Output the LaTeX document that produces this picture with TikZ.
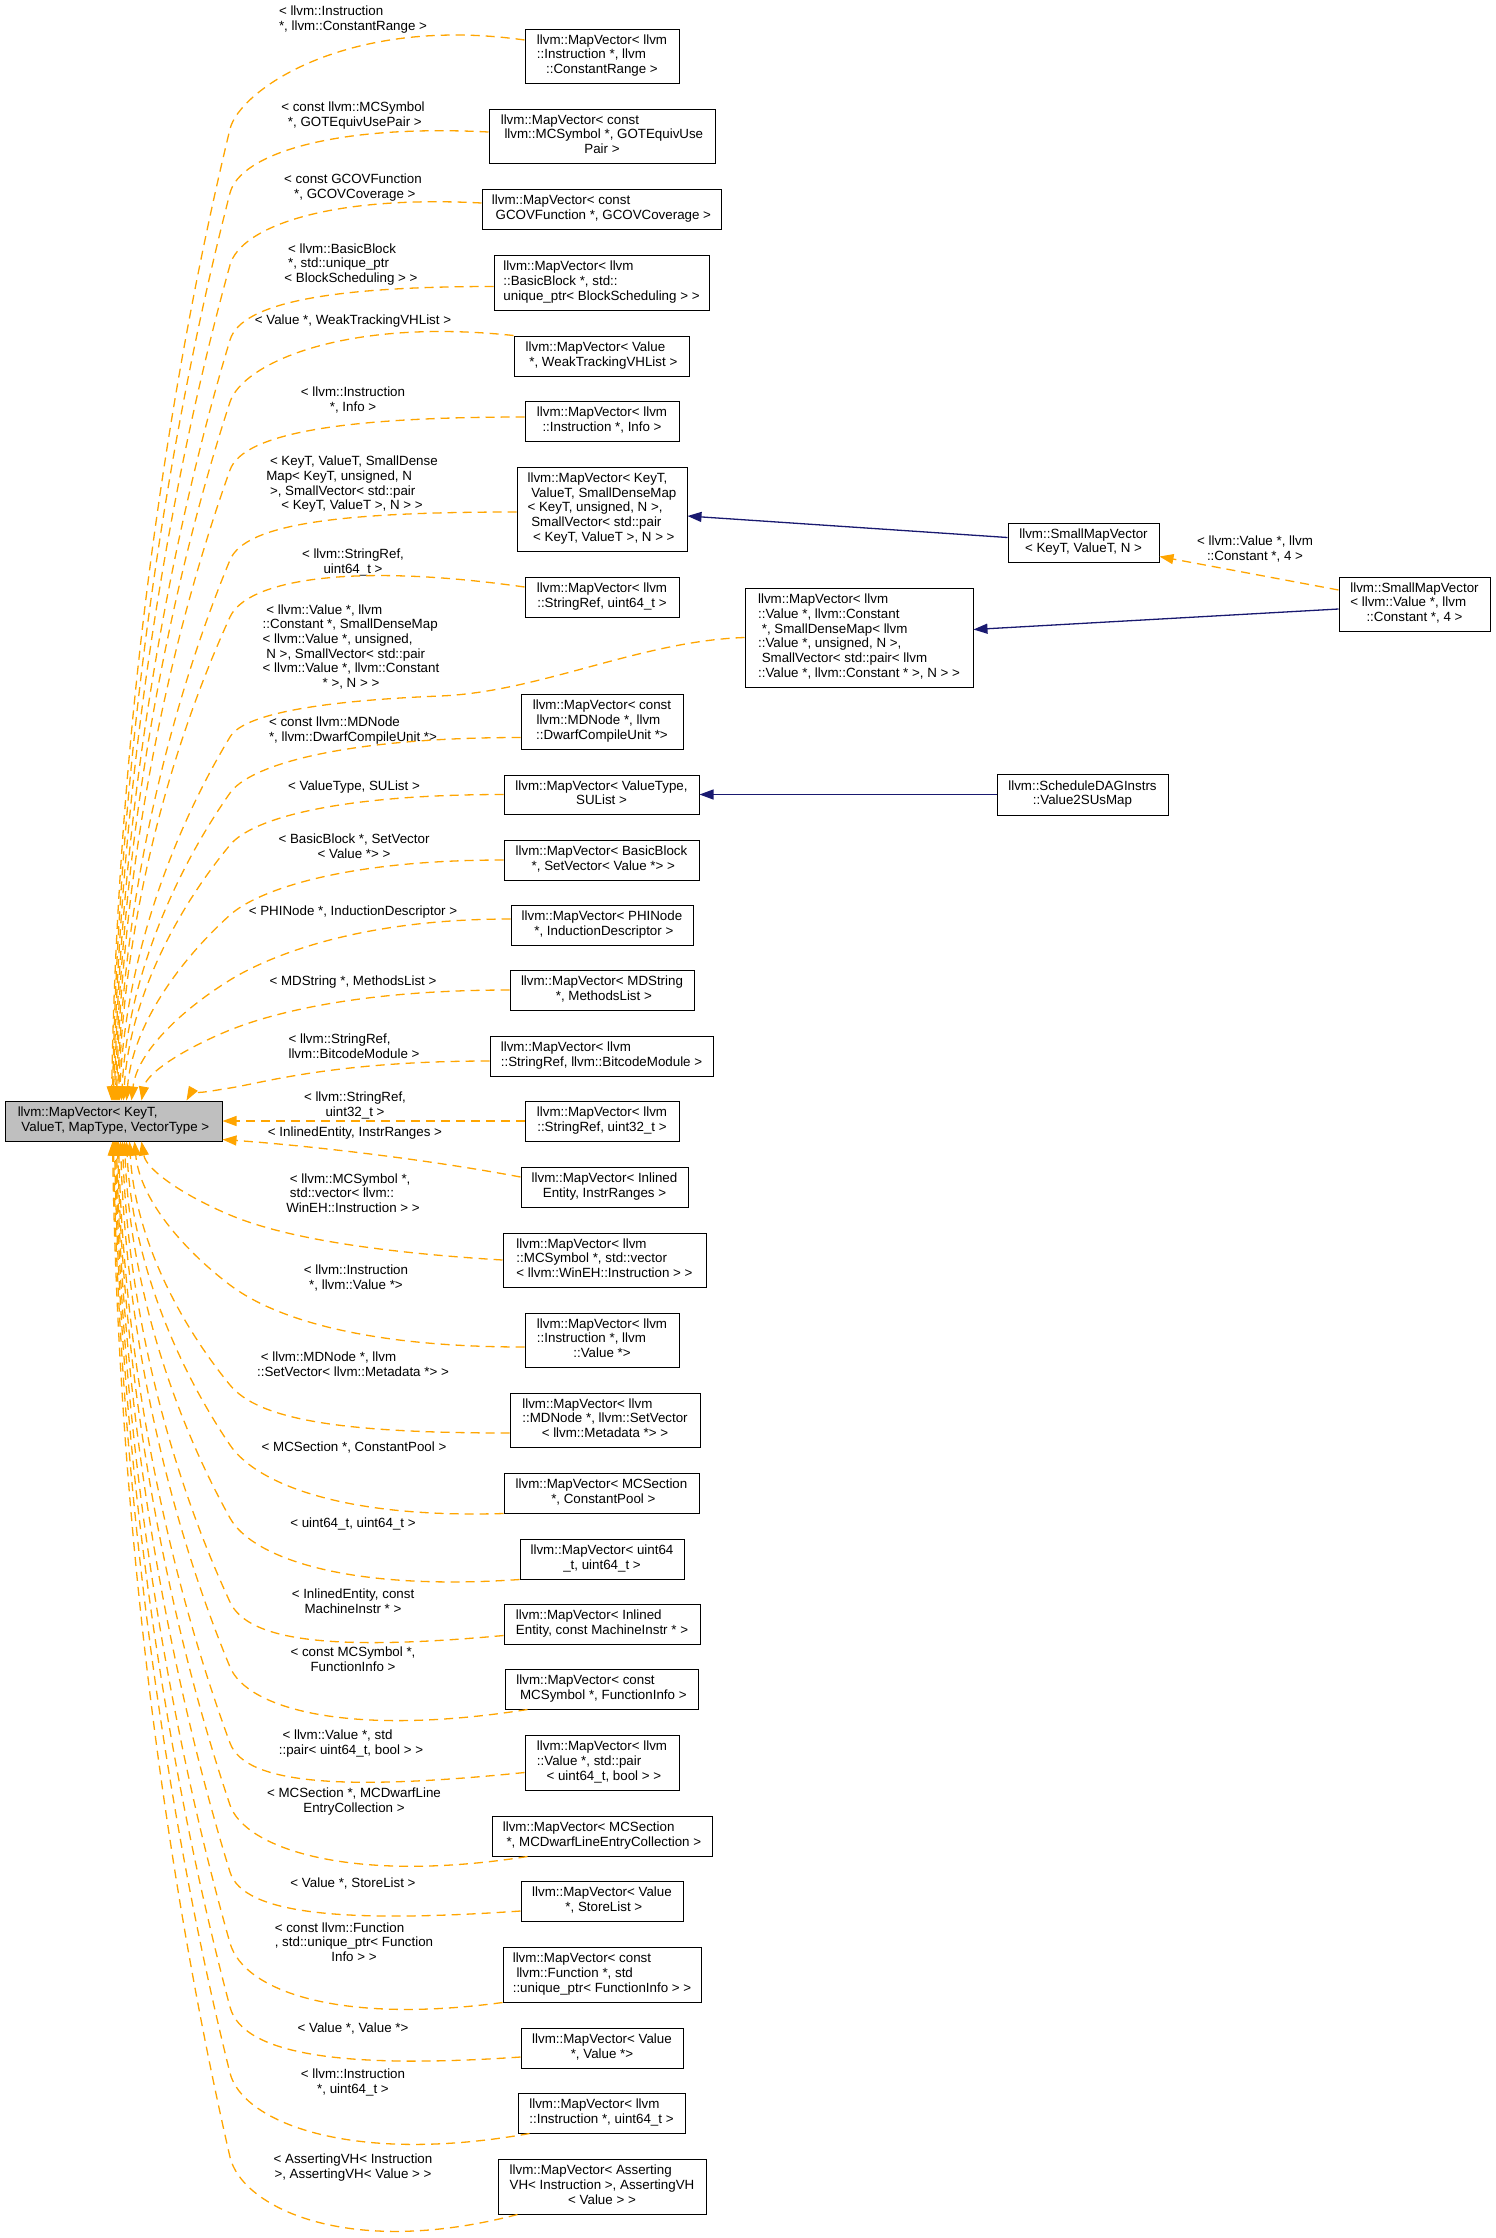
\documentclass[tikz,border=0pt]{standalone}
\usepackage{fontspec}
\setmainfont{Liberation Sans}
\usetikzlibrary{calc,arrows.meta}
\definecolor{dorange}{HTML}{FFA500}
\definecolor{dblue}{HTML}{191970}
\definecolor{mgray}{HTML}{BFBFBF}
\newcommand\mlab[2]{\begin{tabular}{@{}l@{}}#1\\\multicolumn{1}{@{}c@{}}{#2}\end{tabular}}
\tikzset{
 box/.style={draw=black, line width=0.5pt, inner sep=0pt, fill=white, font=\fontsize{6.67}{7.35}\selectfont},
 lbl/.style={inner sep=0pt, font=\fontsize{6.67}{7.35}\selectfont},
 dep/.style={draw=dorange, line width=0.65pt, dash pattern=on 4.5pt off 3pt, -{Triangle[length=7pt,width=5pt]}},
 inh/.style={draw=dblue, line width=0.65pt, -{Triangle[length=7pt,width=5pt]}},
}
\newcommand\bx[7][]{\node[box,#1, minimum width={(#5-#3)*0.5pt}, minimum height={(#6-#4)*0.5pt}] (#2) at ({(#3+#5)/2},{(#4+#6)/2}) {#7};}
\newcommand\lb[4]{\node[lbl] (#1) at (#2,#3) {#4};}
\newcommand\tedge[5]{%
 \pgfmathsetmacro\eD{1101-#2}%
 \pgfmathsetmacro\eax{0.5*(230-#3)}%
 \pgfmathsetmacro\eay{0.25*\eD}%
 \pgfmathsetmacro\eL{veclen(\eax,\eay)}%
 \pgfmathsetmacro\eux{\eax/\eL*#4}%
 \pgfmathsetmacro\euy{\eay/\eL*#4}%
 \pgfmathsetmacro\ecx{#3+0.05*(230-#3)}%
 \pgfmathsetmacro\ecy{1101-0.4*\eD}%
 \coordinate (tK) at (230,#2);%
 \coordinate (tE) at ($(main.north west)+(#3-5,0)$);%
 \draw[dep] (#1) .. controls ($(#1)!0.6!(#1 -| tK)+(0,#5)$) and ($(tK)+(\eux,-\euy)$) .. (tK) .. controls ($(tK)+(-\eax,\eay)$) and (\ecx,\ecy) .. (tE);%
}
\newcommand\bedge[5]{%
 \pgfmathsetmacro\eD{#2-1141}%
 \pgfmathsetmacro\eax{0.5*(230-#3)}%
 \pgfmathsetmacro\eay{0.25*\eD}%
 \pgfmathsetmacro\eL{veclen(\eax,\eay)}%
 \pgfmathsetmacro\eux{\eax/\eL*#4}%
 \pgfmathsetmacro\euy{\eay/\eL*#4}%
 \pgfmathsetmacro\ecx{#3+0.05*(230-#3)}%
 \pgfmathsetmacro\ecy{1141+0.4*\eD}%
 \coordinate (tK) at (230,#2);%
 \coordinate (tE) at ($(main.south west)+(#3-5,0)$);%
 \draw[dep] (#1) .. controls ($(#1)!0.6!(#1 -| tK)+(0,#5)$) and ($(tK)+(\eux,\euy)$) .. (tK) .. controls ($(tK)+(-\eax,-\eay)$) and (\ecx,\ecy) .. (tE);%
}
\begin{document}
\begin{tikzpicture}[x=0.5pt,y=-0.5pt]
\useasboundingbox (0,0) rectangle (1495,2238);
% ---------- nodes
\bx[fill=mgray]{main}{5}{1101}{222}{1141}{\mlab{llvm::MapVector< KeyT,}{\ ValueT, MapType, VectorType >}}
\bx{n1}{525}{29}{679}{83}{\mlab{llvm::MapVector< llvm\\::Instruction *, llvm}{::ConstantRange >}}
\bx{n2}{489}{109}{715}{163}{\mlab{llvm::MapVector< const\\\ llvm::MCSymbol *, GOTEquivUse}{Pair >}}
\bx{n3}{482}{189}{721}{229}{\mlab{llvm::MapVector< const}{\ GCOVFunction *, GCOVCoverage >}}
\bx{n4}{494}{255}{709}{310}{\mlab{llvm::MapVector< llvm\\::BasicBlock *, std::}{unique\_ptr< BlockScheduling > >}}
\bx{n5}{514}{336}{689}{376}{\mlab{llvm::MapVector< Value}{\ *, WeakTrackingVHList >}}
\bx{n6}{525}{401}{679}{441}{\mlab{llvm::MapVector< llvm}{::Instruction *, Info >}}
\bx{n7}{517}{467}{687}{551}{\mlab{llvm::MapVector< KeyT,\\\ ValueT, SmallDenseMap\\< KeyT, unsigned, N >,\\\ SmallVector< std::pair}{\ < KeyT, ValueT >, N > >}}
\bx{n8}{525}{577}{679}{617}{\mlab{llvm::MapVector< llvm}{::StringRef, uint64\_t >}}
\bx{n9}{745}{588}{973}{687}{\mlab{llvm::MapVector< llvm\\::Value *, llvm::Constant\\\ *, SmallDenseMap< llvm\\::Value *, unsigned, N >,\\\ SmallVector< std::pair< llvm}{::Value *, llvm::Constant * >, N > >}}
\bx{n10}{521}{694}{683}{749}{\mlab{llvm::MapVector< const\\\ llvm::MDNode *, llvm}{::DwarfCompileUnit *>}}
\bx{n11}{504}{775}{699}{814}{\mlab{llvm::MapVector< ValueType,}{SUList >}}
\bx{n12}{504}{840}{699}{880}{\mlab{llvm::MapVector< BasicBlock}{\ *, SetVector< Value *> >}}
\bx{n13}{511}{905}{693}{945}{\mlab{llvm::MapVector< PHINode}{\ *, InductionDescriptor >}}
\bx{n14}{510}{970}{694}{1010}{\mlab{llvm::MapVector< MDString}{\ *, MethodsList >}}
\bx{n15}{490}{1036}{713}{1076}{\mlab{llvm::MapVector< llvm}{::StringRef, llvm::BitcodeModule >}}
\bx{n16}{525}{1101}{679}{1141}{\mlab{llvm::MapVector< llvm}{::StringRef, uint32\_t >}}
\bx{n17}{521}{1167}{688}{1207}{\mlab{llvm::MapVector< Inlined}{Entity, InstrRanges >}}
\bx{n18}{503}{1233}{706}{1287}{\mlab{llvm::MapVector< llvm\\::MCSymbol *, std::vector}{< llvm::WinEH::Instruction > >}}
\bx{n19}{525}{1313}{679}{1367}{\mlab{llvm::MapVector< llvm\\::Instruction *, llvm}{::Value *>}}
\bx{n20}{510}{1393}{700}{1447}{\mlab{llvm::MapVector< llvm\\::MDNode *, llvm::SetVector}{< llvm::Metadata *> >}}
\bx{n21}{504}{1473}{699}{1513}{\mlab{llvm::MapVector< MCSection}{\ *, ConstantPool >}}
\bx{n22}{520}{1539}{684}{1579}{\mlab{llvm::MapVector< uint64}{\_t, uint64\_t >}}
\bx{n23}{504}{1604}{700}{1644}{\mlab{llvm::MapVector< Inlined}{Entity, const MachineInstr * >}}
\bx{n24}{505}{1669}{698}{1709}{\mlab{llvm::MapVector< const}{\ MCSymbol *, FunctionInfo >}}
\bx{n25}{525}{1735}{679}{1790}{\mlab{llvm::MapVector< llvm\\::Value *, std::pair}{\ < uint64\_t, bool > >}}
\bx{n26}{492}{1816}{712}{1856}{\mlab{llvm::MapVector< MCSection}{\ *, MCDwarfLineEntryCollection >}}
\bx{n27}{521}{1881}{683}{1921}{\mlab{llvm::MapVector< Value}{\ *, StoreList >}}
\bx{n28}{503}{1947}{701}{2002}{\mlab{llvm::MapVector< const\\\ llvm::Function *, std}{::unique\_ptr< FunctionInfo > >}}
\bx{n29}{521}{2028}{683}{2068}{\mlab{llvm::MapVector< Value}{*, Value *>}}
\bx{n30}{518}{2093}{685}{2133}{\mlab{llvm::MapVector< llvm}{::Instruction *, uint64\_t >}}
\bx{n31}{498}{2159}{706}{2214}{\mlab{llvm::MapVector< Asserting\\VH< Instruction >, AssertingVH}{< Value > >}}
\bx{smvk}{1008}{523}{1159}{562}{\mlab{llvm::SmallMapVector}{< KeyT, ValueT, N >}}
\bx{smvv}{1339}{577}{1490}{631}{\mlab{llvm::SmallMapVector\\< llvm::Value *, llvm}{::Constant *, 4 >}}
\bx{v2s}{997}{774}{1168}{815}{\mlab{llvm::ScheduleDAGInstrs}{::Value2SUsMap}}
% ---------- edge labels
\lb{l1}{353}{20}{\mlab{< llvm::Instruction}{*, llvm::ConstantRange >}}
\lb{l2}{353}{116}{\mlab{< const llvm::MCSymbol}{\ *, GOTEquivUsePair >}}
\lb{l3}{353}{188}{\mlab{< const GCOVFunction}{\ *, GCOVCoverage >}}
\lb{l4}{351}{265}{\mlab{\ < llvm::BasicBlock\\\ *, std::unique\_ptr}{< BlockScheduling > >}}
\lb{l5}{353}{321}{< Value *, WeakTrackingVHList >}
\lb{l6}{353}{401}{\mlab{< llvm::Instruction}{*, Info >}}
\lb{l7}{352}{485}{\mlab{\ < KeyT, ValueT, SmallDense\\Map< KeyT, unsigned, N\\\ >, SmallVector< std::pair}{< KeyT, ValueT >, N > >}}
\lb{l8}{353}{563}{\mlab{< llvm::StringRef,}{uint64\_t >}}
\lb{l9}{351}{648}{\mlab{\ < llvm::Value *, llvm\\::Constant *, SmallDenseMap\\< llvm::Value *, unsigned,\\\ N >, SmallVector< std::pair\\< llvm::Value *, llvm::Constant}{* >, N > >}}
\lb{l10}{353}{731}{\mlab{< const llvm::MDNode}{*, llvm::DwarfCompileUnit *>}}
\lb{l11}{354}{787}{< ValueType, SUList >}
\lb{l12}{354}{848}{\mlab{< BasicBlock *, SetVector}{< Value *> >}}
\lb{l13}{353}{912}{< PHINode *, InductionDescriptor >}
\lb{l14}{353}{982}{< MDString *, MethodsList >}
\lb{l15}{354}{1048}{\mlab{< llvm::StringRef,}{llvm::BitcodeModule >}}
\lb{l16}{355}{1106}{\mlab{< llvm::StringRef,}{uint32\_t >}}
\lb{l17}{355}{1133}{< InlinedEntity, InstrRanges >}
\lb{l18}{353}{1195}{\mlab{\ < llvm::MCSymbol *,\\\ std::vector< llvm::}{WinEH::Instruction > >}}
\lb{l19}{356}{1279}{\mlab{< llvm::Instruction}{*, llvm::Value *>}}
\lb{l20}{353}{1366}{\mlab{\ < llvm::MDNode *, llvm}{::SetVector< llvm::Metadata *> >}}
\lb{l21}{354}{1447}{< MCSection *, ConstantPool >}
\lb{l22}{353}{1524}{< uint64\_t, uint64\_t >}
\lb{l23}{353}{1603}{\mlab{< InlinedEntity, const}{MachineInstr * >}}
\lb{l24}{353}{1661}{\mlab{< const MCSymbol *,}{FunctionInfo >}}
\lb{l25}{351}{1744}{\mlab{\ < llvm::Value *, std}{::pair< uint64\_t, bool > >}}
\lb{l26}{354}{1802}{\mlab{< MCSection *, MCDwarfLine}{EntryCollection >}}
\lb{l27}{353}{1883}{< Value *, StoreList >}
\lb{l28}{354}{1944}{\mlab{< const llvm::Function\\*, std::unique\_ptr< Function}{Info > >}}
\lb{l29}{353}{2028}{< Value *, Value *>}
\lb{l30}{353}{2083}{\mlab{< llvm::Instruction}{*, uint64\_t >}}
\lb{l31}{353}{2168}{\mlab{< AssertingVH< Instruction}{>, AssertingVH< Value > >}}
\lb{l32}{1255}{550}{\mlab{< llvm::Value *, llvm}{::Constant *, 4 >}}
% ---------- top edges
\coordinate (s1) at ($(n1.west)+(0,-16)$);
\tedge{s1}{129}{112}{40}{-25}
\coordinate (s2) at ($(n2.west)+(0,-4)$);
\tedge{s2}{193}{113}{40}{-8}
\coordinate (s3) at ($(n3.west)+(0,-6)$);
\tedge{s3}{265}{114}{40}{-8}
\coordinate (s4) at ($(n4.west)+(0,4)$);
\tedge{s4}{340}{115}{40}{0}
\tedge{n5.north west}{402}{116}{40}{-18}
\coordinate (s6) at ($(n6.west)+(0,-4)$);
\tedge{s6}{470}{117}{40}{0}
\coordinate (s7) at ($(n7.west)+(0,3)$);
\tedge{s7}{560}{118}{40}{0}
\coordinate (s8) at ($(n8.west)+(0,-10)$);
\tedge{s8}{617}{119}{40}{-25}
\coordinate (k9) at (230,737);
\draw[dep] (n9.west) .. controls (640,641) and (540,692) .. (440,696) .. controls (340,700) and (245,711) .. (k9) .. controls (175,828) and (125.5,955) .. ($(main.north west)+(115,0)$);
\coordinate (s10) at ($(n10.west)+(0,16)$);
\tedge{s10}{793}{122}{35}{0}
\tedge{n11.west}{845}{124}{35}{0}
\tedge{n12.west}{915}{127}{35}{0}
\coordinate (s13) at ($(n13.west)+(0,-6)$);
\tedge{s13}{980}{132}{30}{0}
\tedge{n14.west}{1030}{142}{30}{0}
\coordinate (s15) at ($(n15.west)+(0,5)$);
\tedge{s15}{1088}{187}{30}{0}
% ---------- side edges
\draw[dep] (n16.west) -- (n16.west -| main.east);
\coordinate (s17) at ($(n17.west)+(0,-10)$);
\draw[dep] (s17) .. controls (420,1158) and (300,1145) .. ($(main.south east)+(0,-2)$);
% ---------- bottom edges
\bedge{n18.west}{1215}{142}{40}{-10}
\coordinate (s19) at ($(n19.west)+(0,7)$);
\bedge{s19}{1285}{135}{45}{0}
\coordinate (s20) at ($(n20.west)+(0,13)$);
\bedge{s20}{1385}{130}{45}{0}
\bedge{n21.south west}{1445}{127}{45}{5}
\bedge{n22.south west}{1518}{125}{45}{12}
\coordinate (s23) at ($(n23.south west)+(0,-9)$);
\bedge{s23}{1602}{123}{45}{15}
\coordinate (s24) at ($(n24.south west)+(23,0)$);
\bedge{s24}{1667}{121}{45}{28}
\coordinate (s25) at ($(n25.west)+(0,10)$);
\bedge{s25}{1743}{119}{45}{18}
\coordinate (s26) at ($(n26.south west)+(36,0)$);
\bedge{s26}{1805}{118}{45}{28}
\coordinate (s27) at ($(n27.west)+(0,10)$);
\bedge{s27}{1872}{117}{45}{12}
\bedge{n28.south west}{1943}{116}{50}{22}
\coordinate (s29) at ($(n29.west)+(0,9)$);
\bedge{s29}{2007}{115}{50}{12}
\coordinate (s30) at ($(n30.south west)+(12,0)$);
\bedge{s30}{2073}{114}{50}{32}
\coordinate (s31) at ($(n31.south west)+(20,0)$);
\bedge{s31}{2157}{113}{50}{45}
% ---------- right part
\draw[inh] ($(smvk.west)+(0,-5)$) -- ($(n7.east)+(0,7)$);
\draw[inh] ($(smvv.west)+(0,5)$) -- ($(n9.east)+(0,-8)$);
\draw[inh] (v2s.west) -- (n11.east);
\draw[dep] ($(smvv.west)+(0,-14)$) -- ($(smvk.east)+(0,14)$);
\end{tikzpicture}
\end{document}
